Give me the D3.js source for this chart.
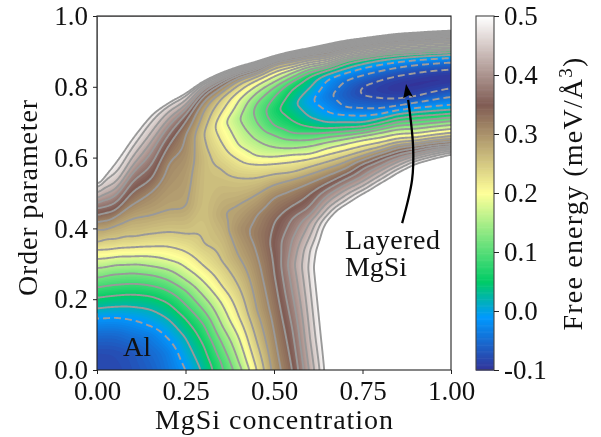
<!DOCTYPE html>
<html><head><meta charset="utf-8">
<script src="https://d3js.org/d3.v7.min.js"></script>
<style>
html,body{margin:0;padding:0;background:#fff}
svg{display:block;filter:blur(0.35px)}
text{font-family:"Liberation Serif",serif;fill:#111}
</style></head><body><svg id="c" width="601" height="437"></svg>
<script>
// contour levels
const a=-.076,b=-.043,c=-.01,d=.023,e=.056,f=.089,g=.122,h=.155,i=.188,j=.221,k=.254,l=.285,m=.315,n=.345,o=.37,p=.395,q=.42,r=.445,t=.47,s=.495;
const dashedLevels=[a,b,c];
const solidLevels=[d,e,f,g,h,i,j,k,l,m,n,o,p,q,r,t,s];
// colormap stops (value, colour)
const cmapValues=[-.1,-.01,.05,.2,.35,.5];
const cmapColors=["#333399","#0099ff","#00cc66","#ffff99","#805c54","#ffffff"];
// sampled concentrations and upper edge of the filled band
const columnX=[0,.05,.1,.15,.2,.25,.3,.35,.4,.45,.5,.55,.6,.65,.7,.75,.8,.85,.9,.95,1];
const upperEdge=[.532,.605,.675,.727,.765,.795,.822,.844,.861,.876,.89,.903,.914,.926,.935,.942,.949,.955,.958,.961,.963];
// free energy read along each column: [order parameter, value]
const col00=[[0,-.08],[.05,-.076],[.1,-.05],[.148,c],[.175,d],[.206,e],[.235,f],[.262,g],[.29,h],[.315,i],[.341,j],[.36,k],[.4,l],[.418,m],[.438,n],[.458,o],[.474,p],[.486,q],[.5,r],[.517,t],[.53,s],[.56,.75]];
const col05=[[0,-.078],[.05,-.074],[.1,-.05],[.15,c],[.18,d],[.212,e],[.242,f],[.272,g],[.298,h],[.32,i],[.345,j],[.37,k],[.41,l],[.435,m],[.452,n],[.475,o],[.494,p],[.514,q],[.531,r],[.556,t],[.598,s],[.63,.75]];
const col10=[[0,-.07],[.05,-.066],[.1,-.04],[.143,c],[.18,d],[.215,e],[.245,f],[.275,g],[.3,h],[.322,i],[.348,j],[.377,k],[.43,l],[.47,m],[.505,n],[.535,o],[.56,p],[.58,q],[.605,r],[.63,t],[.668,s],[.7,.75]];
const col15=[[0,-.058],[.05,-.05],[.1,-.03],[.125,c],[.172,d],[.21,e],[.24,f],[.27,g],[.295,h],[.322,i],[.35,j],[.385,k],[.438,l],[.505,m],[.54,n],[.58,o],[.615,p],[.645,q],[.67,r],[.7,t],[.727,s],[.755,.75]];
const col20=[[0,-.037],[.05,-.03],[.09,c],[.145,d],[.19,e],[.225,f],[.255,g],[.285,h],[.312,i],[.35,j],[.39,k],[.452,l],[.585,m],[.635,n],[.665,o],[.69,p],[.71,q],[.73,r],[.748,t],[.761,s],[.79,.75]];
const col25=[[0,c],[.09,d],[.145,e],[.185,f],[.225,g],[.255,h],[.29,i],[.335,j],[.385,k],[.462,l],[.56,.295],[.67,m],[.706,n],[.725,o],[.74,p],[.752,q],[.765,r],[.778,t],[.789,s],[.815,.75]];
const col30=[[0,.03],[.07,e],[.13,f],[.17,g],[.21,h],[.25,i],[.295,j],[.357,k],[.46,.263],[.6,.266],[.67,k],[.735,l],[.76,m],[.775,n],[.785,o],[.795,p],[.803,q],[.81,r],[.816,t],[.82,s],[.845,.75]];
const col35=[[0,.083],[.02,f],[.08,g],[.13,h],[.19,i],[.24,j],[.31,k],[.443,.283],[.57,k],[.645,j],[.7,.2],[.73,j],[.77,k],[.785,l],[.8,m],[.81,n],[.817,o],[.823,p],[.829,q],[.834,r],[.839,t],[.843,s],[.868,.75]];
const col40=[[0,.142],[.02,h],[.09,i],[.15,j],[.235,k],[.32,l],[.4,.305],[.47,l],[.545,k],[.595,j],[.635,i],[.712,h],[.765,i],[.79,j],[.808,k],[.82,l],[.828,m],[.834,n],[.84,o],[.845,p],[.85,q],[.854,r],[.858,t],[.86,s],[.885,.75]];
const col45=[[0,j],[.08,k],[.17,l],[.33,m],[.385,.325],[.44,m],[.498,l],[.545,k],[.583,j],[.605,i],[.65,h],[.7,g],[.735,.112],[.757,g],[.785,h],[.805,i],[.822,j],[.829,k],[.838,l],[.845,m],[.85,n],[.855,o],[.859,p],[.863,q],[.867,r],[.871,t],[.875,s],[.9,.75]];
const col50=[[0,.297],[.1,m],[.27,n],[.36,.355],[.42,n],[.49,m],[.525,l],[.555,k],[.585,j],[.603,i],[.63,h],[.665,g],[.69,f],[.735,.064],[.775,f],[.802,g],[.815,h],[.832,i],[.845,j],[.85,k],[.865,l],[.87,m],[.873,n],[.876,o],[.879,p],[.882,q],[.885,r],[.887,t],[.889,s],[.915,.75]];
const col55=[[0,n],[.12,o],[.22,p],[.3,.412],[.37,p],[.43,o],[.465,n],[.51,m],[.54,l],[.56,k],[.59,j],[.61,i],[.627,h],[.652,g],[.67,f],[.705,e],[.752,.03],[.795,e],[.818,f],[.828,g],[.84,h],[.853,i],[.857,j],[.862,k],[.875,l],[.88,m],[.884,n],[.888,o],[.891,p],[.894,q],[.897,r],[.9,t],[.902,s],[.928,.75]];
const col60=[[0,.425],[.09,r],[.24,t],[.29,.478],[.34,t],[.38,r],[.42,q],[.44,p],[.465,o],[.5,n],[.53,m],[.555,l],[.575,k],[.6,j],[.61,i],[.635,h],[.651,g],[.67,f],[.687,e],[.715,d],[.763,-.006],[.8,d],[.833,e],[.84,f],[.853,g],[.858,h],[.865,i],[.87,j],[.875,k],[.885,l],[.888,m],[.892,n],[.896,o],[.899,p],[.902,q],[.905,r],[.909,t],[.912,s],[.94,.75]];
const col65=[[0,.515],[.3,.57],[.4,.52],[.425,s],[.44,t],[.458,r],[.475,q],[.495,p],[.513,o],[.53,n],[.55,m],[.572,l],[.59,k],[.61,j],[.628,i],[.645,h],[.66,g],[.672,f],[.684,e],[.7,d],[.73,c],[.775,-.038],[.825,c],[.835,d],[.85,e],[.857,f],[.924,s],[.95,.75]];
const col70=[[0,.66],[.3,.72],[.44,.56],[.468,s],[.48,t],[.495,r],[.51,q],[.525,p],[.54,o],[.555,n],[.57,m],[.59,l],[.605,k],[.622,j],[.64,i],[.655,h],[.665,g],[.675,f],[.687,e],[.7,d],[.722,c],[.742,b],[.78,-.062],[.82,b],[.843,c],[.85,d],[.868,e],[.875,f],[.933,s],[.96,.75]];
const col75=[[0,.8],[.44,.62],[.5,s],[.51,t],[.522,r],[.535,q],[.55,p],[.57,o],[.585,n],[.595,m],[.607,l],[.62,k],[.634,j],[.652,i],[.663,h],[.672,g],[.68,f],[.69,e],[.7,d],[.72,c],[.74,b],[.775,a],[.79,-.08],[.805,a],[.835,b],[.857,c],[.864,d],[.88,e],[.885,f],[.94,s],[.965,.75]];
const col80=[[0,.8],[.47,.62],[.53,s],[.54,t],[.552,r],[.565,q],[.578,p],[.592,o],[.605,n],[.613,m],[.622,l],[.632,k],[.645,j],[.658,i],[.673,h],[.682,g],[.69,f],[.7,e],[.712,d],[.725,c],[.74,b],[.767,a],[.795,-.09],[.823,a],[.847,b],[.866,c],[.875,d],[.888,e],[.892,f],[.947,s],[.97,.75]];
const col85=[[0,.8],[.5,.62],[.56,s],[.57,t],[.58,r],[.59,q],[.6,p],[.61,o],[.62,n],[.63,m],[.637,l],[.645,k],[.655,j],[.668,i],[.682,h],[.692,g],[.702,f],[.712,e],[.725,d],[.735,c],[.748,b],[.766,a],[.8,-.098],[.835,a],[.857,b],[.873,c],[.882,d],[.893,e],[.897,f],[.953,s],[.975,.75]];
const col90=[[0,.8],[.53,.62],[.585,s],[.592,t],[.6,r],[.606,q],[.612,p],[.62,o],[.63,n],[.636,m],[.642,l],[.65,k],[.658,j],[.671,i],[.684,h],[.695,g],[.706,f],[.719,e],[.73,d],[.74,c],[.758,b],[.772,a],[.81,-.1],[.843,a],[.864,b],[.878,c],[.887,d],[.896,e],[.9,f],[.956,s],[.98,.75]];
const col95=[[0,.8],[.55,.62],[.6,s],[.606,t],[.612,r],[.618,q],[.624,p],[.63,o],[.637,n],[.642,m],[.65,l],[.657,k],[.665,j],[.677,i],[.69,h],[.7,g],[.71,f],[.722,e],[.734,d],[.745,c],[.766,b],[.785,a],[.82,-.1],[.849,a],[.868,b],[.882,c],[.89,d],[.898,e],[.903,f],[.959,s],[.985,.75]];
const col100=[[0,.8],[.56,.62],[.614,s],[.617,t],[.62,r],[.625,q],[.629,p],[.635,o],[.64,n],[.648,m],[.655,l],[.662,k],[.672,j],[.682,i],[.695,h],[.705,g],[.715,f],[.726,e],[.737,d],[.749,c],[.774,b],[.796,a],[.825,-.1],[.853,a],[.871,b],[.885,c],[.893,d],[.9,e],[.905,f],[.961,s],[.99,.75]];
const columns=[col00,col05,col10,col15,col20,col25,col30,col35,col40,col45,col50,col55,col60,col65,col70,col75,col80,col85,col90,col95,col100];
// tick labels and annotation
const xTicks=[0,.25,.5,.75,1];
const yTicks=[0,.2,.4,.6,.8,1];
const cTicks=[-.1,0,.1,.2,.3,.4,.5];
const arrowTrail=[[.862,.415],[.89,.537],[.893,.63],[.879,.763]];
const arrowHead=[[.873,.808],[.893,.771],[.882,.777],[.865,.768]];

const L=97,R=451,T=16,B=370,CL=476,CR=494;
const svg=d3.select("#c");
const x=d3.scaleLinear([0,1],[L,R]), y=d3.scaleLinear([0,1],[B,T]);
const cv=d3.scaleLinear([-.1,.5],[B,T]);
const color=d3.scaleLinear(cmapValues,cmapColors).clamp(true);

// sample the columns onto a fine grid (cubic across columns, following the band's edge)
const N=300;
const profiles=columns.map(kn=>d3.scaleLinear(kn.map(v=>v[0]),kn.map(v=>v[1])).clamp(true));
const catmull=w=>[(-w+2*w*w-w*w*w)/2,(2-5*w*w+3*w*w*w)/2,(w+4*w*w-3*w*w*w)/2,(-w*w+w*w*w)/2];
// weights per column, with the end columns continued straight beyond the frame
const columnWeights=pos=>{
  const c0=Math.floor(pos), wt=catmull(pos-c0), out=[[c0,wt[1]],[c0+1,wt[2]]];
  if(c0>0) out.push([c0-1,wt[0]]); else { out[0][1]+=2*wt[0]; out[1][1]-=wt[0]; }
  if(c0+2<=20) out.push([c0+2,wt[3]]); else { out[1][1]+=2*wt[3]; out[0][1]-=wt[3]; }
  return out;
};
let grid=new Float64Array((N+1)*(N+1));
for(let ii=0;ii<=N;ii++){
  const pos=Math.min(ii/N*20,19.9999), ws=columnWeights(pos);
  const tp=d3.sum(ws,z=>upperEdge[z[0]]*z[1]);
  for(let jj=0;jj<=N;jj++){
    const yy=1-jj/N;
    let v=0;
    for(const [cc,wc] of ws){const tc=upperEdge[cc]; v+=wc*profiles[cc](yy<=tp? yy/tp*tc : tc+(yy-tp));}
    grid[jj*(N+1)+ii]=v;
  }
}
if(d3.blur2) d3.blur2({data:grid,width:N+1,height:N+1},1.8);

const path=d3.geoPath(d3.geoTransform({point(px,py){
  this.stream.point(x(px/N),y(1-py/N));
}}));
const contour=d3.contours().size([N+1,N+1]).smooth(true);

svg.append("defs").call(df=>{
  df.append("clipPath").attr("id","plot").append("rect").attr("x",L).attr("y",T).attr("width",R-L).attr("height",B-T);
  df.append("clipPath").attr("id","layered").append("rect").attr("x",x(.5)).attr("y",T).attr("width",R-x(.5)).attr("height",B-T);
});
const gPlot=svg.append("g").attr("clip-path","url(#plot)");
// filled bands
const fillLevels=d3.range(-.105,.5,.005).concat([.5]);
gPlot.append("g").selectAll("path")
  .data(contour.thresholds(fillLevels)(grid))
  .join("path").attr("d",path).attr("fill",v=>v.value>=.5?"#fff":color(v.value));
// contour lines
gPlot.append("g").attr("fill","none").attr("stroke","#999").attr("stroke-width",1.9)
  .selectAll("path").data(contour.thresholds(solidLevels)(grid))
  .join("path").attr("d",path);
const gD=gPlot.append("g").attr("fill","none").attr("stroke","#a09c9c").attr("stroke-width",1.9).attr("stroke-dasharray","7,4");
gD.selectAll("path").data(contour.thresholds(dashedLevels)(grid))
  .join("path").attr("d",path).attr("clip-path",v=>v.value<c-.001?"url(#layered)":null);

// frame and axes
svg.append("rect").attr("x",L).attr("y",T).attr("width",R-L).attr("height",B-T).attr("fill","none").attr("stroke","#222").attr("stroke-width",1.1);
const styleAxis=sel=>{sel.select(".domain").remove();sel.selectAll("line").attr("stroke","#222").attr("stroke-width",1);sel.selectAll("text").style("font-size","27px").attr("fill","#111");};
svg.append("g").attr("transform",`translate(0,${B})`).call(d3.axisBottom(x).tickValues(xTicks).tickFormat(v=>v.toFixed(2)).tickSize(4).tickPadding(7)).call(styleAxis);
svg.append("g").attr("transform",`translate(${L},0)`).call(d3.axisLeft(y).tickValues(yTicks).tickFormat(v=>v.toFixed(1)).tickSize(4).tickPadding(5)).call(styleAxis);

// colourbar
const cb=svg.append("g");
cb.selectAll("rect").data(d3.range(-.1,.5,.002)).join("rect")
  .attr("x",CL).attr("width",CR-CL).attr("y",v=>cv(v+.002)).attr("height",v=>cv(v)-cv(v+.002)+.6).attr("fill",v=>color(v+.001));
svg.append("rect").attr("x",CL).attr("y",T).attr("width",CR-CL).attr("height",B-T).attr("fill","none").attr("stroke","#444").attr("stroke-width",1.1);
svg.append("g").attr("transform",`translate(${CR},0)`).call(d3.axisRight(cv).tickValues(cTicks).tickFormat(v=>v.toFixed(1)).tickSize(5).tickPadding(5)).call(styleAxis);

// axis titles
svg.append("text").attr("x",274).attr("y",429).attr("text-anchor","middle").style("font-size","28px").attr("textLength",238).text("MgSi concentration");
svg.append("text").attr("transform","translate(37,198) rotate(-90)").attr("text-anchor","middle").style("font-size","28px").attr("textLength",196).text("Order parameter");
const ct=svg.append("text").attr("transform","translate(582,193.5) rotate(-90)").attr("text-anchor","middle").style("font-size","28px").style("letter-spacing","1.2px");
ct.append("tspan").text("Free energy (meV/Å");
ct.append("tspan").attr("dy",-10).style("font-size","19px").text("3");
ct.append("tspan").attr("dy",10).text(")");

// annotations
const ann=svg.append("g").style("font-size","28px");
ann.append("text").attr("x",345).attr("y",249).attr("textLength",95).text("Layered");
ann.append("text").attr("x",345).attr("y",276).attr("textLength",62).text("MgSi");
ann.append("text").attr("x",123).attr("y",356).attr("textLength",28).text("Al");
svg.append("path").datum(arrowTrail).attr("d",d3.line().x(v=>x(v[0])).y(v=>y(v[1])).curve(d3.curveCatmullRom))
  .attr("fill","none").attr("stroke","#000").attr("stroke-width",2.3);
svg.append("path").attr("d",d3.line().x(v=>x(v[0])).y(v=>y(v[1])).curve(d3.curveLinearClosed)(arrowHead)).attr("fill","#000");
</script></body></html>
